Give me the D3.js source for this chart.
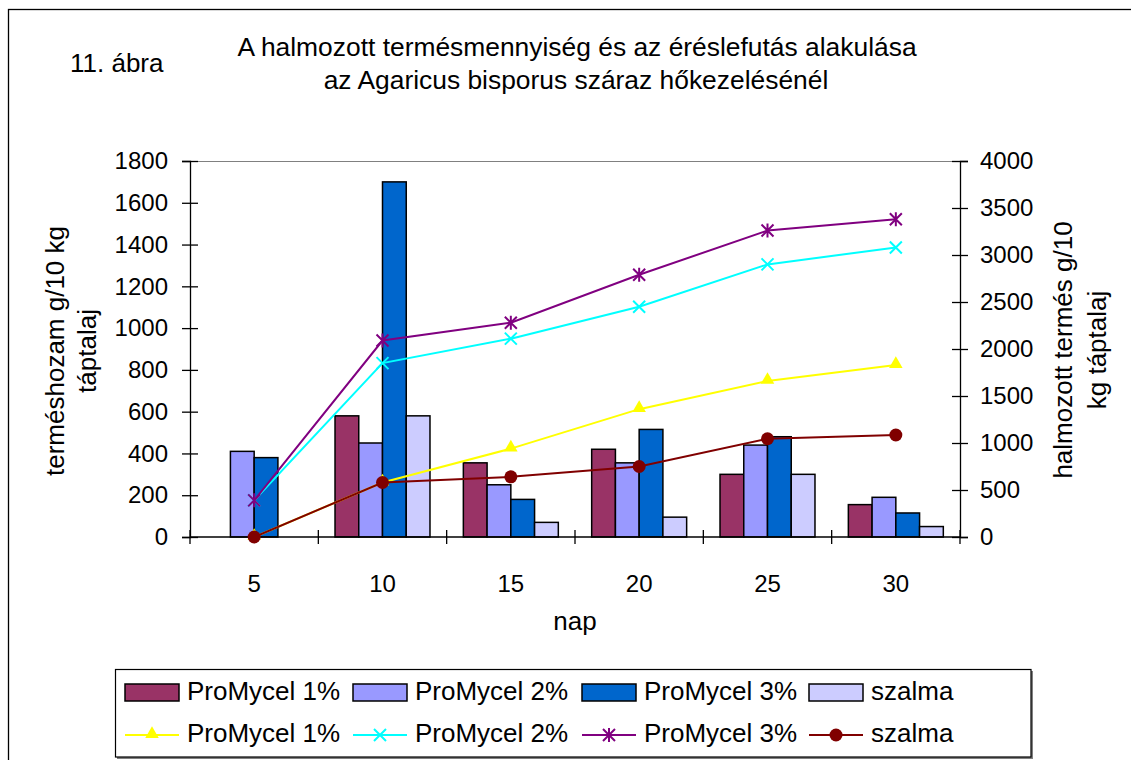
<!DOCTYPE html>
<html><head><meta charset="utf-8">
<script src="https://cdn.jsdelivr.net/npm/d3@7"></script>
<style>
html,body{margin:0;padding:0;background:#fff;}
svg text{font-family:"Liberation Sans",Arial,sans-serif;fill:#000;}
</style></head>
<body>
<svg id="c" width="1131" height="760"></svg>
<script>
const days = ["5","10","15","20","25","30"];
const barSeries = ["ProMycel 1%","ProMycel 2%","ProMycel 3%","szalma"];
const barPM1 = [0, 580, 355, 420, 300, 155];
const barPM2 = [410, 450, 250, 355, 440, 190];
const barPM3 = [380, 1700, 180, 515, 480, 115];
const barSzalma = [0, 580, 70, 95, 300, 50];
const cumPM1 = [0, 580, 940, 1360, 1660, 1830];
const cumPM2 = [390, 1850, 2110, 2450, 2900, 3080];
const cumPM3 = [390, 2090, 2280, 2790, 3260, 3380];
const cumSzalma = [0, 580, 640, 750, 1045, 1085];
const leftTicks = [0,200,400,600,800,1000,1200,1400,1600,1800];
const rightTicks = [0,500,1000,1500,2000,2500,3000,3500,4000];
const barColors = ["#993366","#9999FF","#0066CC","#CCCCFF"];
const lineColors = ["#FFFF00","#00FFFF","#800080","#800000"];
const lineMarkers = ["triangle","x","star","circle"];

const svg = d3.select("#c");
const L = 190, R = 960, T = 161, B = 537;

// outer border (only left/top visible)
svg.append("rect").attr("x",8.5).attr("y",9.5).attr("width",1200).attr("height",900)
  .attr("fill","none").attr("stroke","#000").attr("stroke-width",1.3);

const x = d3.scaleBand().domain(days).range([L,R]).padding(0);
const bw = x.bandwidth();
const xi = d3.scaleBand().domain(barSeries).range([bw*0.13, bw*0.87]).padding(0);
const yL = d3.scaleLinear().domain([0,1800]).range([B,T]);
const yR = d3.scaleLinear().domain([0,4000]).range([B,T]);

// plot top border
svg.append("line").attr("x1",L).attr("x2",R).attr("y1",T+0.5).attr("y2",T+0.5)
  .attr("stroke","#808080").attr("stroke-width",1.2);

// bars
const barData = [barPM1,barPM2,barPM3,barSzalma];
barData.forEach((arr,si)=>{
  svg.append("g").selectAll("rect").data(arr).join("rect")
    .attr("x",(d,i)=>x(days[i])+xi(barSeries[si]))
    .attr("width",xi.bandwidth())
    .attr("y",d=>yL(d))
    .attr("height",d=>B-yL(d))
    .attr("fill",barColors[si])
    .attr("stroke","#000").attr("stroke-width",d=>d>0?1.5:0);
});

// axes
const axL = svg.append("g").attr("transform",`translate(${L},0)`)
  .call(d3.axisLeft(yL).tickValues(leftTicks).tickSize(8).tickPadding(14).tickFormat(d3.format("d")));
const axR = svg.append("g").attr("transform",`translate(${R},0)`)
  .call(d3.axisRight(yR).tickValues(rightTicks).tickSize(8).tickPadding(12).tickFormat(d3.format("d")));
const axB = svg.append("g").attr("transform",`translate(0,${B})`)
  .call(d3.axisBottom(x).tickSize(0).tickPadding(38));
[axL,axR,axB].forEach(a=>{
  a.select(".domain").attr("stroke","#000").attr("stroke-width",1.3);
  a.selectAll("text").attr("font-size",24).attr("font-family","Liberation Sans, Arial, sans-serif");
  a.selectAll(".tick line").attr("stroke","#000").attr("stroke-width",1.3);
});
// crossing ticks
axL.selectAll(".tick line").attr("x1",8).attr("x2",-8);
axR.selectAll(".tick line").attr("x1",-8).attr("x2",8);
axB.select(".domain").attr("d",`M${L},0H${R}`);
// category boundary ticks crossing x-axis
const bounds = days.map(d=>x(d)).concat([R]);
svg.append("g").selectAll("line").data(bounds).join("line")
  .attr("x1",d=>d).attr("x2",d=>d).attr("y1",B-7).attr("y2",B+7)
  .attr("stroke","#000").attr("stroke-width",1.3);

// lines
const cumData = [cumPM1,cumPM2,cumPM3,cumSzalma];
const cx = i=>x(days[i])+bw/2;
function marker(g,type,color,px,py,s){
  if(type==="triangle"){
    g.append("path").attr("d",d3.symbol(d3.symbolTriangle,s*s*0.55)())
     .attr("transform",`translate(${px},${py-1})`).attr("fill",color);
  } else if(type==="x"){
    const h=s/2;
    g.append("path").attr("d",`M${px-h},${py-h}L${px+h},${py+h}M${px-h},${py+h}L${px+h},${py-h}`)
     .attr("stroke",color).attr("stroke-width",2).attr("fill","none");
  } else if(type==="star"){
    const h=s/2;
    g.append("path").attr("d",`M${px-h},${py-h}L${px+h},${py+h}M${px-h},${py+h}L${px+h},${py-h}M${px},${py-h-1}L${px},${py+h+1}`)
     .attr("stroke",color).attr("stroke-width",2).attr("fill","none");
  } else {
    g.append("circle").attr("cx",px).attr("cy",py).attr("r",s/2).attr("fill",color);
  }
}
cumData.forEach((arr,si)=>{
  const g = svg.append("g");
  const line = d3.line().x((d,i)=>cx(i)).y(d=>yR(d));
  g.append("path").datum(arr).attr("d",line).attr("fill","none")
    .attr("stroke",lineColors[si]).attr("stroke-width",2);
  arr.forEach((d,i)=>marker(g,lineMarkers[si],lineColors[si],cx(i),yR(d),si===3?13:12));
});

// titles
svg.append("text").attr("x",70).attr("y",72).attr("font-size",26).text("11. ábra");
svg.append("text").attr("x",577).attr("y",56).attr("text-anchor","middle").attr("font-size",26.4)
  .text("A halmozott termésmennyiség és az éréslefutás alakulása");
svg.append("text").attr("x",576).attr("y",89).attr("text-anchor","middle").attr("font-size",26.4)
  .text("az Agaricus bisporus száraz hőkezelésénél");
svg.append("text").attr("x",575).attr("y",630).attr("text-anchor","middle").attr("font-size",26).text("nap");

const lt = svg.append("text").attr("transform","translate(0,351) rotate(-90)").attr("text-anchor","middle").attr("font-size",26);
lt.append("tspan").attr("x",0).attr("y",64).text("terméshozam g/10 kg");
lt.append("tspan").attr("x",0).attr("y",96).text("táptalaj");
const rt = svg.append("text").attr("transform","translate(0,350) rotate(-90)").attr("text-anchor","middle").attr("font-size",26);
rt.append("tspan").attr("x",0).attr("y",1072).text("halmozott termés g/10");
rt.append("tspan").attr("x",0).attr("y",1106).text("kg táptalaj");

// legend
const lg = svg.append("g");
lg.append("rect").attr("x",117).attr("y",671).attr("width",916).attr("height",88).attr("fill","#808080");
lg.append("rect").attr("x",115.5).attr("y",669.5).attr("width",915.5).attr("height",87.5)
  .attr("fill","#fff").attr("stroke","#000").attr("stroke-width",1.2);
const legX = [125,353,582,809];
barSeries.forEach((s,i)=>{
  lg.append("rect").attr("x",legX[i]).attr("y",684).attr("width",54).attr("height",17)
    .attr("fill",barColors[i]).attr("stroke","#000").attr("stroke-width",1.5);
  lg.append("text").attr("x",legX[i]+62).attr("y",700).attr("font-size",26).text(s);
  const g = lg.append("g");
  g.append("line").attr("x1",legX[i]).attr("x2",legX[i]+54).attr("y1",735).attr("y2",735)
    .attr("stroke",lineColors[i]).attr("stroke-width",2);
  marker(g,lineMarkers[i],lineColors[i],legX[i]+27,735,i===3?13:12);
  lg.append("text").attr("x",legX[i]+62).attr("y",742).attr("font-size",26).text(s);
});
</script>
</body></html>
